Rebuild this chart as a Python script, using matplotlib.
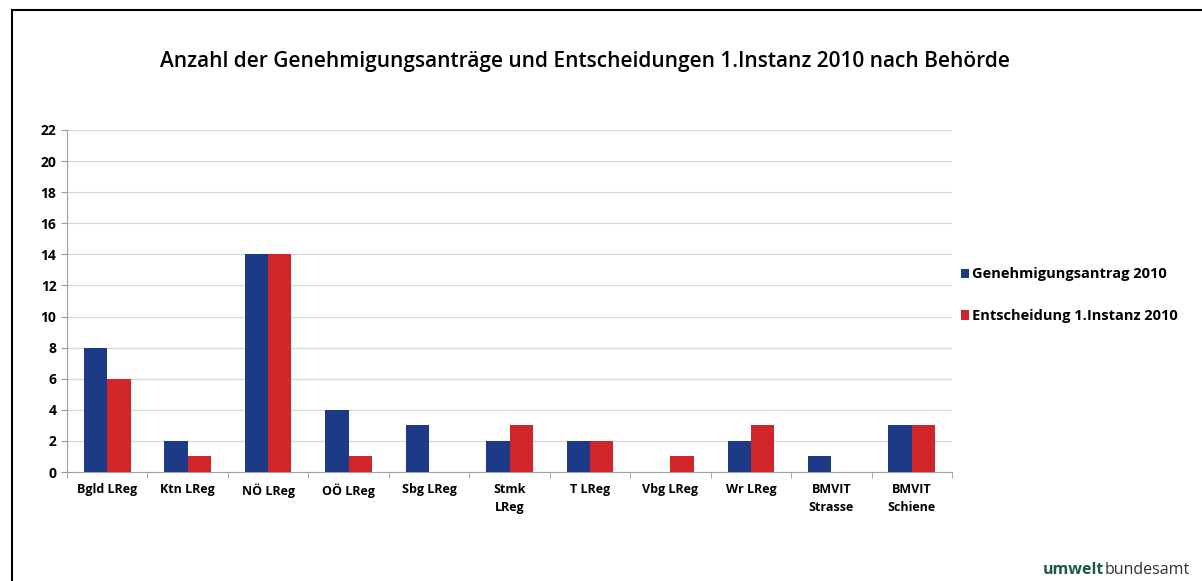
import matplotlib.pyplot as plt
import numpy as np
from matplotlib.lines import Line2D

plt.rcParams['font.family'] = ['Open Sans', 'DejaVu Sans']

categories = ['Bgld LReg', 'Ktn LReg', 'NÖ LReg', 'OÖ LReg', 'Sbg LReg', 'Stmk\nLReg',
              'T LReg', 'Vbg LReg', 'Wr LReg', 'BMVIT\nStrasse', 'BMVIT\nSchiene']
antraege = [8, 2, 14, 4, 3, 2, 2, 0, 2, 1, 3]
entscheidungen = [6, 1, 14, 1, 0, 3, 2, 1, 3, 0, 3]
series_names = ['Genehmigungsantrag 2010', 'Entscheidung 1.Instanz 2010']
title = 'Anzahl der Genehmigungsanträge und Entscheidungen 1.Instanz 2010 nach Behörde'

blue = '#1c3a86'
red = '#d0262a'

fig = plt.figure(figsize=(12.02, 5.81), dpi=100)
ax = fig.add_axes([67 / 1202, 1 - 472 / 581, (952 - 67) / 1202, (472 - 130) / 581])

x = np.arange(len(categories))
w = 0.29
ax.bar(x - w / 2, antraege, w, color=blue, label=series_names[0], zorder=3)
ax.bar(x + w / 2, entscheidungen, w, color=red, label=series_names[1], zorder=3)

ax.set_xlim(-0.5, len(categories) - 0.5)
ax.set_ylim(0, 22)
ax.set_yticks(range(0, 23, 2))
ax.yaxis.grid(True, color='#d8d8d8', linewidth=0.9, zorder=0)
ax.set_xticks(x)
ax.set_xticklabels(categories, fontsize=9, fontweight='bold', linespacing=1.5)
ax.set_xticks(np.arange(-0.5, len(categories)), minor=True)
ax.tick_params(axis='x', which='major', length=0, pad=8)
ax.tick_params(axis='x', which='minor', length=4, color='#999999')
ax.tick_params(axis='y', length=4, color='#999999', labelsize=10)
for lab in ax.get_yticklabels():
    lab.set_fontweight('bold')

for s in ['top', 'right']:
    ax.spines[s].set_visible(False)
ax.spines['left'].set_color('#a0a0a0')
ax.spines['bottom'].set_color('#a0a0a0')

fig.text(0.487, 1 - 62 / 581, title, ha='center', va='center', fontsize=15,
         fontweight='semibold')

ax.legend(loc='center left', bbox_to_anchor=(0.995, 0.517), frameon=False,
          prop={'weight': 'bold', 'size': 10.5}, handlelength=0.6, handleheight=0.6,
          handletextpad=0.2, labelspacing=1.9)

# outer frame of the slide
fig.add_artist(Line2D([12 / 1202, 1.0], [1 - 10 / 581, 1 - 10 / 581], color='black', linewidth=1.5))
fig.add_artist(Line2D([12 / 1202, 12 / 1202], [0, 1 - 10 / 581], color='black', linewidth=1.5))

# logo text
fig.text(1 - 12 / 1202, 1 - 570 / 581, 'bundesamt', ha='right', va='center', fontsize=11.5,
         color='#333333')
fig.text(1 - 98 / 1202, 1 - 570 / 581, 'umwelt', ha='right', va='center', fontsize=11.5,
         fontweight='bold', color='#1f5a44')

fig.savefig('out.png', dpi=100)
